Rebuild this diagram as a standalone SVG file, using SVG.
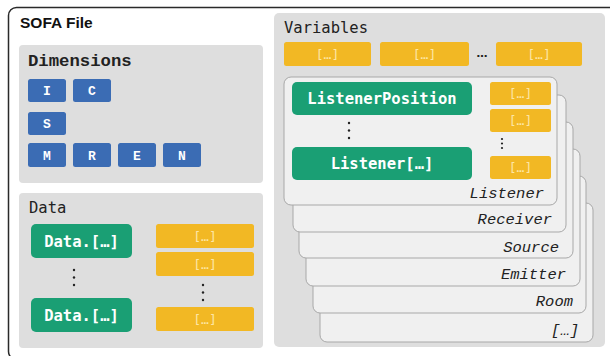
<svg xmlns="http://www.w3.org/2000/svg" width="610" height="356" viewBox="0 0 610 356">
  <style>
    .panel { fill: #dedede; }
    .card { fill: #f0f0f0; stroke: #a8a8a8; stroke-width: 1; }
    .dim { fill: #3b6cb4; }
    .dimt { font-family: "Liberation Mono", monospace; font-weight: bold; font-size: 13px; fill: #ffffff; text-anchor: middle; }
    .grn { fill: #1a9f74; }
    .grnt { font-family: "DejaVu Sans Mono", monospace; font-weight: bold; font-size: 15.5px; fill: #ffffff; text-anchor: middle; }
    .ylw { fill: #f2b824; }
    .ylwt { font-family: "DejaVu Sans Mono", monospace; font-size: 13px; fill: #fde6a4; text-anchor: middle; }
    .ptitle { font-family: "DejaVu Sans Mono", monospace; font-size: 15.5px; fill: #222222; }
    .clabel { font-family: "Liberation Mono", monospace; font-style: italic; font-size: 15.5px; fill: #222222; text-anchor: end; }
    .dot { fill: #222222; }
  </style>
  <defs>
    <g id="vdots">
      <circle cx="0" cy="0" r="1.2" class="dot"/>
      <circle cx="0" cy="7.5" r="1.2" class="dot"/>
      <circle cx="0" cy="15" r="1.2" class="dot"/>
    </g>
  </defs>

  <rect width="610" height="356" fill="#ffffff"/>

  <!-- outer file frame, running past the right and bottom edges -->
  <g id="sofa-file">
    <rect x="8.5" y="7.5" width="620" height="352" rx="8" fill="#ffffff" stroke="#2a2a2a" stroke-width="1.5"/>
    <text x="20" y="28" font-family="Liberation Sans, Arial, sans-serif" font-weight="bold" font-size="15.5" fill="#111111">SOFA File</text>
  </g>

  <!-- Dimensions panel -->
  <g id="dimensions">
    <rect class="panel" x="19" y="45" width="244" height="138" rx="4"/>
    <text x="28" y="66" font-family="Liberation Mono, monospace" font-weight="bold" font-size="17.3" fill="#222222">Dimensions</text>
    <g id="dim-I"><rect class="dim" x="28" y="79" width="38" height="23" rx="2.5"/><text class="dimt" x="47" y="95">I</text></g>
    <g id="dim-C"><rect class="dim" x="73" y="79" width="38" height="23" rx="2.5"/><text class="dimt" x="92" y="95">C</text></g>
    <g id="dim-S"><rect class="dim" x="28" y="112" width="38" height="23" rx="2.5"/><text class="dimt" x="47" y="128">S</text></g>
    <g id="dim-M"><rect class="dim" x="28" y="143" width="38" height="24" rx="2.5"/><text class="dimt" x="47" y="159.5">M</text></g>
    <g id="dim-R"><rect class="dim" x="73" y="143" width="38" height="24" rx="2.5"/><text class="dimt" x="92" y="159.5">R</text></g>
    <g id="dim-E"><rect class="dim" x="118" y="143" width="38" height="24" rx="2.5"/><text class="dimt" x="137" y="159.5">E</text></g>
    <g id="dim-N"><rect class="dim" x="163" y="143" width="38" height="24" rx="2.5"/><text class="dimt" x="182" y="159.5">N</text></g>
  </g>

  <!-- Data panel -->
  <g id="data">
    <rect class="panel" x="19" y="193" width="244" height="155" rx="4"/>
    <text class="ptitle" x="29" y="213">Data</text>
    <g id="data-1"><rect class="grn" x="31" y="224" width="101" height="34" rx="5"/><text class="grnt" x="81.5" y="246.5">Data.[…]</text></g>
    <use href="#vdots" x="74" y="270"/>
    <g id="data-n"><rect class="grn" x="31" y="298" width="101" height="34" rx="5"/><text class="grnt" x="81.5" y="320.5">Data.[…]</text></g>
    <g id="data-attr-1"><rect class="ylw" x="156" y="224" width="98" height="24" rx="2.5"/><text class="ylwt" x="205" y="240.5">[…]</text></g>
    <g id="data-attr-2"><rect class="ylw" x="156" y="252" width="98" height="24" rx="2.5"/><text class="ylwt" x="205" y="268.5">[…]</text></g>
    <use href="#vdots" x="203" y="285"/>
    <g id="data-attr-n"><rect class="ylw" x="156" y="307" width="98" height="24" rx="2.5"/><text class="ylwt" x="205" y="323.5">[…]</text></g>
  </g>

  <!-- Variables panel -->
  <g id="variables">
    <rect class="panel" x="274" y="13" width="331" height="334" rx="5"/>
    <text class="ptitle" x="284" y="33">Variables</text>
    <g id="var-1"><rect class="ylw" x="284" y="42" width="87" height="24" rx="2.5"/><text class="ylwt" x="327.5" y="58.5">[…]</text></g>
    <g id="var-2"><rect class="ylw" x="380" y="42" width="89" height="24" rx="2.5"/><text class="ylwt" x="424.5" y="58.5">[…]</text></g>
    <text x="482" y="57" font-family="DejaVu Sans, sans-serif" font-weight="bold" font-size="11" fill="#222222" text-anchor="middle">…</text>
    <g id="var-n"><rect class="ylw" x="496" y="42" width="86" height="24" rx="2.5"/><text class="ylwt" x="539" y="58.5">[…]</text></g>
  </g>

  <!-- stacked object cards, back to front -->
  <g id="card-other">
    <rect class="card" x="320" y="203" width="273" height="139" rx="7"/>
    <text class="clabel" x="579" y="335">[…]</text>
  </g>
  <g id="card-room">
    <rect class="card" x="313" y="176" width="273" height="137" rx="7"/>
    <text class="clabel" x="573" y="306">Room</text>
  </g>
  <g id="card-emitter">
    <rect class="card" x="306" y="149" width="274" height="137" rx="7"/>
    <text class="clabel" x="566" y="279">Emitter</text>
  </g>
  <g id="card-source">
    <rect class="card" x="299" y="122" width="274" height="136" rx="7"/>
    <text class="clabel" x="559" y="252">Source</text>
  </g>
  <g id="card-receiver">
    <rect class="card" x="293" y="95" width="273" height="137" rx="7"/>
    <text class="clabel" x="552" y="224">Receiver</text>
  </g>
  <g id="card-listener">
    <rect class="card" x="284" y="77" width="273" height="128" rx="7"/>
    <text class="clabel" x="544" y="198">Listener</text>
    <g id="listener-position"><rect class="grn" x="292" y="82" width="180" height="33" rx="5"/><text class="grnt" x="382" y="104">ListenerPosition</text></g>
    <use href="#vdots" x="349" y="123"/>
    <g id="listener-n"><rect class="grn" x="292" y="147" width="180" height="33" rx="5"/><text class="grnt" x="382" y="169">Listener[…]</text></g>
    <g id="listener-attr-1"><rect class="ylw" x="490" y="82" width="61" height="23" rx="2.5"/><text class="ylwt" x="520.5" y="98">[…]</text></g>
    <g id="listener-attr-2"><rect class="ylw" x="490" y="109" width="61" height="23" rx="2.5"/><text class="ylwt" x="520.5" y="125">[…]</text></g>
    <circle cx="502" cy="139" r="1.1" class="dot"/>
    <circle cx="502" cy="143.5" r="1.1" class="dot"/>
    <circle cx="502" cy="148" r="1.1" class="dot"/>
    <g id="listener-attr-n"><rect class="ylw" x="490" y="156" width="61" height="23" rx="2.5"/><text class="ylwt" x="520.5" y="172">[…]</text></g>
  </g>
</svg>
